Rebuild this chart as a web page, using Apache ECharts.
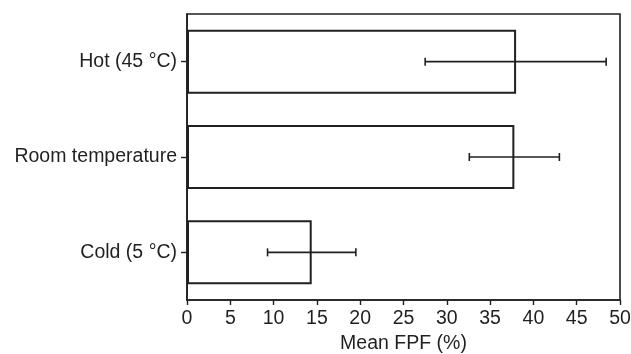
<!DOCTYPE html>
<html>
<head>
<meta charset="utf-8">
<script src="https://cdn.jsdelivr.net/npm/echarts@6/dist/echarts.min.js"></script>
<style>
	html, body { margin: 0; padding: 0; background: #fff; }
	#main { width: 631px; height: 354px; }
</style>
</head>
<body>
<div id="main"></div>
<script>
// data, bottom to top
const categories = ['Cold (5 °C)', 'Room temperature', 'Hot (45 °C)']
const meanFpf = [14.4, 37.8, 38.0]
const errLow = [9.3, 32.6, 27.5]
const errHigh = [19.5, 43.0, 48.4]
const xTicks = [0, 5, 10, 15, 20, 25, 30, 35, 40, 45, 50]

const ink = '#231f20'
const font = 'Liberation Sans, Arial, sans-serif'

const myChart = echarts.init(document.getElementById('main'))

const errData = categories.map(function (c, i) {
	return [i, errLow[i], errHigh[i]]
})

const option = {
	animation: false,
	grid: {
		left: 187,
		right: 11,
		top: 14,
		bottom: 54,
		containLabel: false,
		outerBoundsMode: 'none',
		show: true,
		borderColor: ink,
		borderWidth: 1.6,
		backgroundColor: 'transparent'
	},
	xAxis: {
		type: 'value',
		min: xTicks[0],
		max: xTicks[xTicks.length - 1],
		interval: 5,
		name: 'Mean FPF (%)',
		nameLocation: 'middle',
		nameGap: 28,
		nameTextStyle: { fontFamily: font, fontSize: 19.5, color: ink },
		axisLine: { show: true, lineStyle: { color: ink, width: 1.6 } },
		axisTick: { show: true, length: 5, lineStyle: { color: ink, width: 1.4 } },
		axisLabel: { fontFamily: font, fontSize: 19.5, color: ink, margin: 9 },
		splitLine: { show: false }
	},
	yAxis: {
		type: 'category',
		data: categories,
		axisLine: { show: true, lineStyle: { color: ink, width: 1.6 } },
		axisTick: { show: true, alignWithLabel: true, length: 6, lineStyle: { color: ink, width: 1.4 } },
		axisLabel: { fontFamily: font, fontSize: 19.5, color: ink, margin: 10 },
		splitLine: { show: false }
	},
	series: [
		{
			type: 'bar',
			data: meanFpf,
			barWidth: 64,
			itemStyle: { color: '#fff', borderColor: ink, borderWidth: 2 }
		},
		{
			type: 'custom',
			data: errData,
			z: 10,
			renderItem: function (params, api) {
				const cat = api.value(0)
				const lo = api.coord([api.value(1), cat])
				const hi = api.coord([api.value(2), cat])
				const cap = 4
				const style = { stroke: ink, lineWidth: 1.6 }
				return {
					type: 'group',
					children: [
						{ type: 'line', shape: { x1: lo[0], y1: lo[1], x2: hi[0], y2: hi[1] }, style: style },
						{ type: 'line', shape: { x1: lo[0], y1: lo[1] - cap, x2: lo[0], y2: lo[1] + cap }, style: style },
						{ type: 'line', shape: { x1: hi[0], y1: hi[1] - cap, x2: hi[0], y2: hi[1] + cap }, style: style }
					]
				}
			}
		}
	]
}

option && myChart.setOption(option)
</script>
</body>
</html>
